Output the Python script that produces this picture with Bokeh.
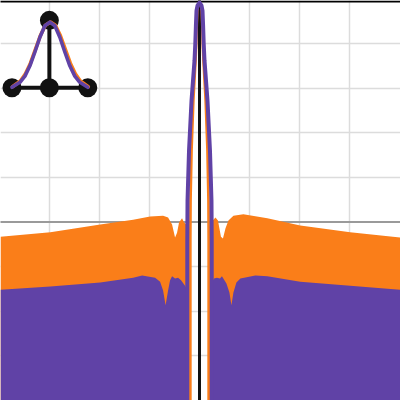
import numpy as np
from bokeh.plotting import figure
from bokeh.models import Range1d, FixedTicker
from bokeh.embed import file_html
from bokeh.resources import INLINE

ORANGE = "#fa7e19"
PURPLE = "#6042a6"

# ---- data (x: grid units, y: grid units, 0 = top) ----
grid_x = [-3, -2, -1, 1, 2, 3]
grid_y = [-1, -2, -3, -4, -6, -7, -8]
axis_y = -5.0
top_y = -0.06

orange_lx = [-3.99, -2.99, -1.99, -1.33, -0.99, -0.73, -0.63, -0.55, -0.49, -0.45, -0.41, -0.35, -0.31, -0.23, -0.18]
orange_ly = [-5.33, -5.23, -5.06, -4.95, -4.88, -4.86, -4.90, -5.06, -5.35, -5.24, -5.01, -4.92, -5.01, -5.08, -5.15]
orange_rx = [0.18, 0.23, 0.32, 0.37, 0.43, 0.47, 0.52, 0.58, 0.68, 0.88, 1.36, 2.02, 3.02, 4.03]
orange_ry = [-5.15, -5.01, -4.90, -4.97, -5.33, -5.37, -5.15, -4.97, -4.86, -4.83, -4.92, -5.08, -5.23, -5.35]

purple_lx = [-3.99, -2.99, -1.99, -1.33, -1.15, -0.89, -0.79, -0.73, -0.68, -0.63, -0.59, -0.55, -0.49, -0.43, -0.37, -0.29, -0.24]
purple_ly = [-6.52, -6.45, -6.36, -6.25, -6.20, -6.25, -6.34, -6.54, -6.87, -6.54, -6.31, -6.22, -6.27, -6.25, -6.31, -6.43, -6.54]
purple_rx = [0.24, 0.29, 0.35, 0.41, 0.45, 0.54, 0.60, 0.64, 0.68, 0.74, 0.82, 1.12, 1.36, 2.02, 3.02, 4.03]
purple_ry = [-6.38, -6.27, -6.25, -6.27, -6.22, -6.38, -6.58, -6.87, -6.58, -6.36, -6.27, -6.20, -6.22, -6.34, -6.43, -6.52]

floor_y = -9.5

lobe_y = [-0.08, -0.15, -0.26, -0.60, -1.00, -1.38, -2.28, -3.40, -4.52, -5.42, -6.32, -9.50]
purple_half = [0.0, 0.04, 0.06, 0.072, 0.084, 0.10, 0.16, 0.21, 0.24, 0.245, 0.245, 0.245]
orange_half = [0.0, 0.03, 0.046, 0.056, 0.066, 0.08, 0.124, 0.16, 0.18, 0.184, 0.184, 0.184]

icon_dot_x = [-3.76, -3.01, -2.24, -3.01]
icon_dot_y = [-1.99, -1.99, -1.99, -0.48]
icon_stem_x = [-3.01, -3.01]
icon_stem_y = [-0.48, -1.99]
icon_base_x = [-3.76, -2.24]
icon_base_y = [-1.99, -1.99]

bell_p_x = [-3.76, -3.6, -3.5, -3.4, -3.3, -3.2, -3.1, -3.0, -2.9, -2.8, -2.7, -2.6, -2.5, -2.4, -2.24]
bell_p_y = [-1.98, -1.87, -1.73, -1.50, -1.19, -0.86, -0.60, -0.52, -0.60, -0.86, -1.19, -1.50, -1.73, -1.87, -1.98]
bell_o_x = [-3.75, -3.59, -3.49, -3.39, -3.29, -3.19, -3.09, -2.99, -2.89, -2.79, -2.69, -2.59, -2.49, -2.39, -2.23]
bell_o_y = [-1.97, -1.84, -1.68, -1.44, -1.13, -0.82, -0.59, -0.52, -0.59, -0.82, -1.13, -1.44, -1.68, -1.84, -1.97]

# ---- figure ----
p = figure(width=400, height=400, output_backend="svg", toolbar_location=None,
           x_range=Range1d(-3.99, 4.03), y_range=Range1d(-9.004, -0.035),
           min_border=0)
p.axis.visible = False
p.outline_line_color = None
p.background_fill_color = "white"
p.border_fill_color = "white"
p.xgrid.ticker = FixedTicker(ticks=grid_x)
p.ygrid.ticker = FixedTicker(ticks=grid_y)
for g in (p.xgrid, p.ygrid):
    g.grid_line_color = "#dcdcdc"
    g.grid_line_width = 1.5

# axis line
p.line([-5, 5], [axis_y, axis_y], line_color="#9a9a9a", line_width=2)

# fills
p.varea(x=orange_lx, y1=[floor_y] * len(orange_lx), y2=orange_ly, fill_color=ORANGE)
p.varea(x=orange_rx, y1=[floor_y] * len(orange_rx), y2=orange_ry, fill_color=ORANGE)
p.varea(x=purple_lx, y1=[floor_y] * len(purple_lx), y2=purple_ly, fill_color=PURPLE)
p.varea(x=purple_rx, y1=[floor_y] * len(purple_rx), y2=purple_ry, fill_color=PURPLE)

# black lines
p.line([-5, 5], [top_y, top_y], line_color="black", line_width=2)
p.line([0, 0], [0.5, -10], line_color="#111111", line_width=3)

# main lobes
def lobe(half):
    xs = [-h for h in half[::-1]] + list(half[1:])
    ys = list(lobe_y[::-1]) + list(lobe_y[1:])
    return xs, ys

ox, oy = lobe(orange_half)
p.line(ox, oy, line_color=ORANGE, line_width=2.7, line_join="round")
px_, py_ = lobe(purple_half)
p.line(px_, py_, line_color=PURPLE, line_width=4, line_join="round")

# icon
p.line(icon_stem_x, icon_stem_y, line_color="#111111", line_width=4)
p.line(icon_base_x, icon_base_y, line_color="#111111", line_width=4)
p.scatter(icon_dot_x, icon_dot_y, size=19, fill_color="#111111", line_color=None)
p.line(bell_o_x, bell_o_y, line_color=ORANGE, line_width=3.6, line_cap="round", line_join="round")
p.line(bell_p_x, bell_p_y, line_color=PURPLE, line_width=3.6, line_cap="round", line_join="round")

open("out.html", "w").write(file_html(p, INLINE))
